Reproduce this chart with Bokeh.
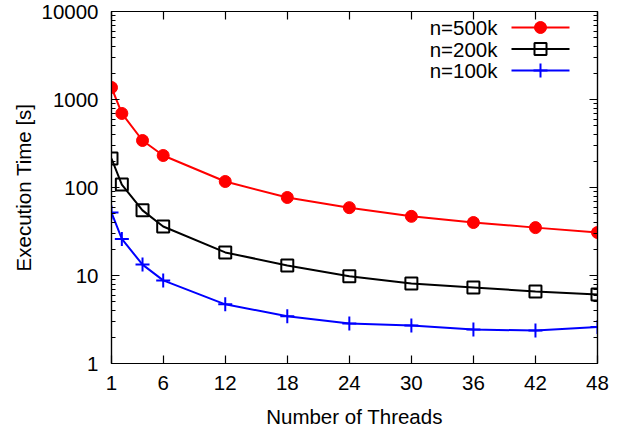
from bokeh.plotting import figure
from bokeh.models import (Range1d, FixedTicker, LogAxis, LinearAxis,
                          PrintfTickFormatter, CustomJSTickFormatter)
from bokeh.core.properties import value
from bokeh.embed import file_html
from bokeh.resources import INLINE

# Measured execution times (seconds) per thread count
threads = [1, 2, 4, 6, 12, 18, 24, 30, 36, 42, 48]
t_500k = [1370, 694, 342, 231, 117, 77, 59, 47, 40, 35, 30.8]
t_200k = [213, 108, 55, 36, 18.3, 13, 9.8, 8.1, 7.3, 6.6, 6.1]
t_100k = [52, 26, 13.3, 8.8, 4.7, 3.45, 2.85, 2.7, 2.43, 2.37, 2.6]

x_ticks = [1, 6, 12, 18, 24, 30, 36, 42, 48]
y_ticks = [1, 10, 100, 1000, 10000]
y_minor = [m * d for d in (1, 10, 100, 1000) for m in range(2, 10)]

FONT = "Liberation Sans"
FS = "20.5px"

# frame geometry (pixels)
L, R, T, B = 111, 25, 11, 74
FW, FH = 622 - L - R, 437 - T - B

p = figure(width=622, height=437, frame_width=FW, frame_height=FH,
           x_range=Range1d(1, 48), y_range=Range1d(1, 10000),
           y_axis_type="log", output_backend="svg", toolbar_location=None,
           min_border_left=L, min_border_right=R, min_border_top=T,
           min_border_bottom=B)
p.grid.visible = False
p.outline_line_color = "black"
p.outline_line_width = 1.2
p.background_fill_color = "white"
p.border_fill_color = "white"


def style_axis(ax):
    ax.axis_line_color = "black"
    ax.axis_line_width = 1.2
    ax.major_tick_in = 8
    ax.major_tick_out = 0
    ax.minor_tick_in = 4
    ax.minor_tick_out = 0
    ax.major_tick_line_width = 1.2
    ax.minor_tick_line_width = 1.2
    ax.major_label_text_font = FONT
    ax.major_label_text_font_size = FS
    ax.major_label_text_color = "black"
    ax.axis_label_text_font = FONT
    ax.axis_label_text_font_size = FS
    ax.axis_label_text_font_style = "normal"
    ax.axis_label_text_color = "black"


fmt = PrintfTickFormatter(format="%d")
blank = CustomJSTickFormatter(code="return '';")

xa = p.xaxis[0]
xa.ticker = FixedTicker(ticks=x_ticks)
xa.formatter = fmt
xa.axis_label = "Number of Threads"
style_axis(xa)
xa.major_label_standoff = 12
xa.axis_label_standoff = 12

ya = p.yaxis[0]
ya.ticker = FixedTicker(ticks=y_ticks, minor_ticks=y_minor)
ya.formatter = fmt
ya.axis_label = "Execution Time [s]"
style_axis(ya)
ya.major_label_standoff = 13
ya.axis_label_standoff = 3

# mirrored tick marks on the top and right edges
top = LinearAxis(ticker=FixedTicker(ticks=x_ticks), formatter=blank)
style_axis(top)
top.major_label_standoff = 0
p.add_layout(top, "above")

right = LogAxis(ticker=FixedTicker(ticks=y_ticks, minor_ticks=y_minor),
                formatter=blank)
style_axis(right)
right.major_label_standoff = 0
p.add_layout(right, "right")

series = [
    ("n=500k", t_500k, "#ff0000", "circle"),
    ("n=200k", t_200k, "#000000", "square"),
    ("n=100k", t_100k, "#0000ff", "cross"),
]


def draw_marker(xs, ys, color, marker):
    if marker == "circle":
        p.scatter(xs, ys, marker="circle", size=12, fill_color=color,
                  line_color=color, line_width=1)
    elif marker == "square":
        p.scatter(xs, ys, marker="square", size=12, fill_color=None,
                  line_color=color, line_width=2)
    else:
        p.scatter(xs, ys, marker="cross", size=14, line_color=color,
                  line_width=2)


for name, vals, color, marker in series:
    p.line(threads, vals, line_color=color, line_width=2)
    draw_marker(threads, vals, color, marker)


# legend keys placed by pixel position inside the frame
def px_x(px):
    return 1 + (px - L) * 47 / FW


def px_y(py):
    return 10 ** (4 * (T + FH - py) / FH)


rows = [27, 48.5, 70]
for (name, vals, color, marker), ry in zip(series, rows):
    yv = px_y(ry)
    p.line([px_x(511), px_x(569)], [yv, yv], line_color=color, line_width=2)
    draw_marker([px_x(540)], [yv], color, marker)
    p.text([px_x(497)], [yv], text=[name], text_align="right",
           text_baseline="middle", text_font=value(FONT),
           text_font_size=value(FS), text_color="black")

open("out.html", "w").write(file_html(p, INLINE))
